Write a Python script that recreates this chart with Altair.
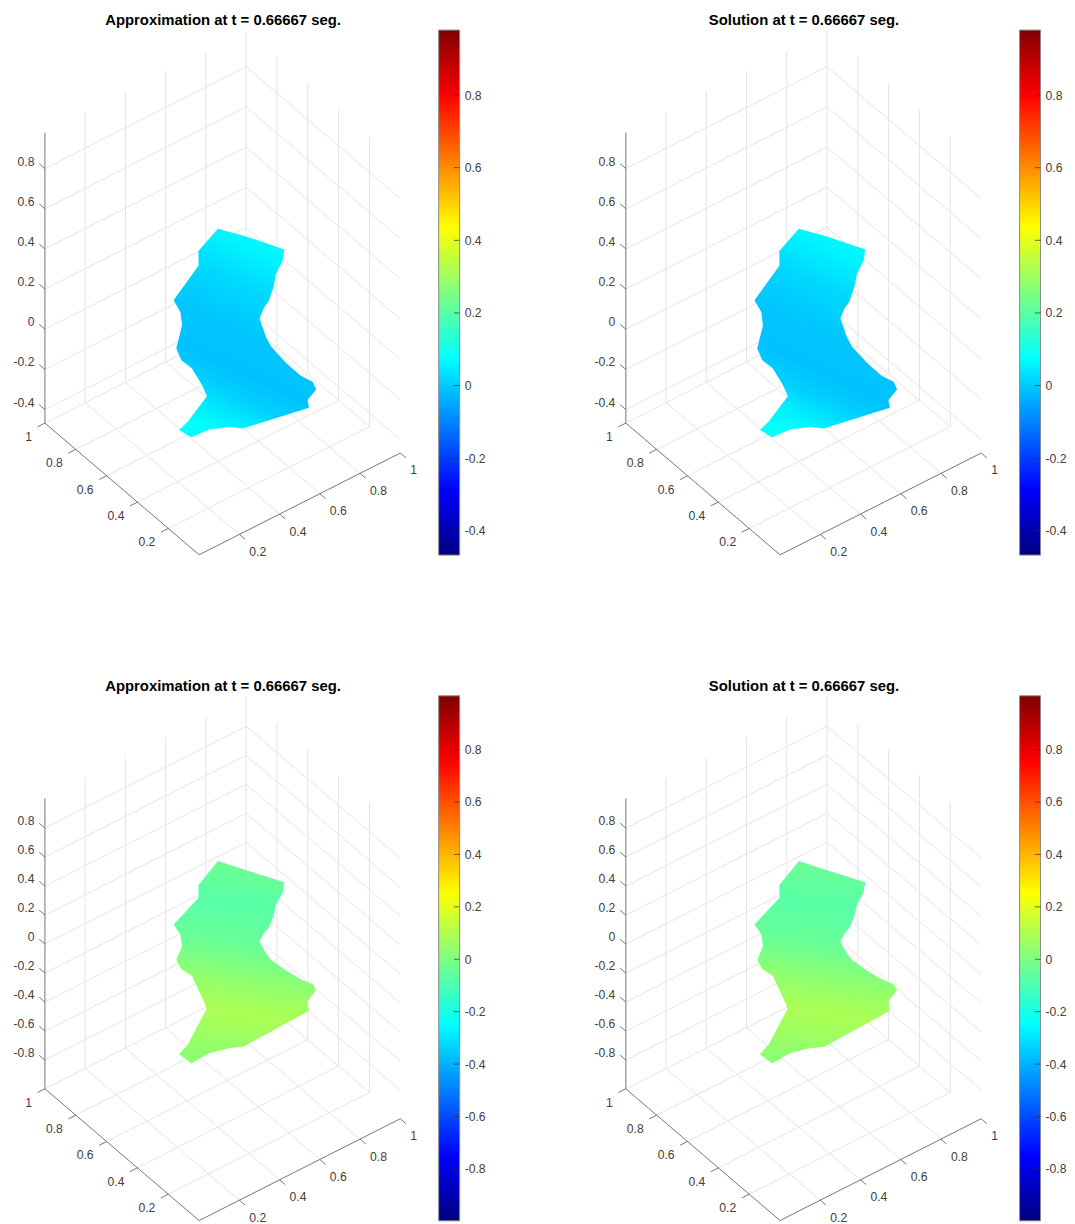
import altair as alt
import pandas as pd

FONT = "Liberation Sans"
TXT = "#404040"
W3D, H = 431, 526
CBW = 21
COL_W = [582, 477]

node_u = [0.856,0.916,0.988,0.950,0.888,0.839,0.780,0.743,0.702,0.657,0.646,0.641,0.644,0.659,0.634,0.561,0.501,
          0.215,0.171,0.091,0.007,-0.001,0.074,0.232,0.268,0.301,0.302,0.329,0.428,0.468,0.471,0.669,0.721]
node_v = [0.995,0.890,0.736,0.697,0.659,0.612,0.566,0.552,0.524,0.422,0.375,0.268,0.179,0.123,0.068,0.029,-0.059,
          -0.003,0.026,0.055,0.060,0.129,0.169,0.252,0.331,0.439,0.509,0.577,0.669,0.732,0.780,0.876,0.945]
node_z_first = [0.070,0.070,0.070,0.060,0.050,0.040,0.030,0.020,0.010,0.005,-0.005,-0.015,-0.020,-0.020,-0.010,0.000,0.050,
                0.055,0.065,0.075,0.075,0.070,0.050,0.040,0.025,0.020,0.015,0.015,0.020,0.025,0.050,0.060,0.060]
node_z_second = [-0.024,-0.034,-0.027,-0.034,-0.041,-0.043,-0.041,-0.043,-0.043,-0.002,0.005,0.030,0.050,0.057,0.085,0.092,0.150,
                 0.051,0.049,0.042,0.026,0.033,0.012,0.074,0.051,0.078,0.060,0.044,-0.013,-0.018,0.005,-0.038,-0.050]

lims_first = (-0.467, 0.979)
lims_second = (-0.998, 1.005)
ticks_first = [-0.4, -0.2, 0, 0.2, 0.4, 0.6, 0.8]
ticks_second = [-0.8, -0.6, -0.4, -0.2, 0, 0.2, 0.4, 0.6, 0.8]
plane_ticks = [0.2, 0.4, 0.6, 0.8, 1]

shade_first = [(0, .075), (.12, .06), (.3, .02), (.5, -.005), (.68, -.012), (.8, .01), (.9, .05), (1, .08)]
shade_second = [(0, -.03), (.22, -.075), (.42, -.04), (.6, .04), (.75, .09), (.88, .06), (1, .03)]
tilt_first = dict(x1=.66, y1=0, x2=.34, y2=1)
tilt_second = dict(x1=.55, y1=0, x2=.45, y2=1)

titles = ["Approximation at t = 0.66667 seg.", "Solution at t = 0.66667 seg."]


def jet(t):
    t = max(0, min(1, t))
    def ch(c):
        return max(0, min(1, 1.5 - abs(4 * t - c)))
    r, g, b = ch(3), ch(2), ch(1)
    return "#%02x%02x%02x" % (round(r * 255), round(g * 255), round(b * 255))


def project(u, v, z, lims):
    lo, hi = lims
    return (191.5 + 201.5 * u - 154.5 * v,
            525.7 - 102 * u - 132 * v - 291 * (z - lo) / (hi - lo))


YS = alt.Scale(domain=[H, 0], nice=False, zero=False)
def fmt(v):
    return "%g" % v


def panel(title, lims, zticks, node_z, shade, tilt, pw):
    XS = alt.Scale(domain=[0, pw], nice=False, zero=False)

    def rules(segs, color, width):
        rows = []
        for (a, b) in segs:
            x, y = project(*a, lims)
            x2, y2 = project(*b, lims)
            rows.append(dict(x=x, y=y, x2=x2, y2=y2))
        return alt.Chart(pd.DataFrame(rows)).mark_rule(color=color, strokeWidth=width).encode(
            x=alt.X("x:Q", scale=XS, axis=None), y=alt.Y("y:Q", scale=YS, axis=None),
            x2="x2:Q", y2="y2:Q")

    def labels(pts, align, dx, dy):
        rows = []
        for (u, v, z, s) in pts:
            x, y = project(u, v, z, lims)
            rows.append(dict(x=x, y=y, s=s))
        return alt.Chart(pd.DataFrame(rows)).mark_text(
            align=align, baseline="middle", dx=dx, dy=dy, font=FONT, fontSize=12.2, color=TXT
        ).encode(x=alt.X("x:Q", scale=XS, axis=None), y=alt.Y("y:Q", scale=YS, axis=None), text="s:N")

    lo, hi = lims
    grid, axes = [], []
    for t in plane_ticks:
        grid.append(((t, 0.2 if t == 1 else 0, lo), (t, 1, lo)))
        grid.append(((0, t, lo), (1, t, lo)))
        if t < 1:
            grid.append(((t, 1, lo), (t, 1, hi)))
            grid.append(((1, t, lo), (1, t, hi)))
    grid.append(((1, 1, lo), (1, 1, hi)))
    for z in zticks:
        grid.append(((0, 1, z), (1, 1, z)))
        grid.append(((1, 1, z), (1, 0, z)))
    axes.append(((0, 0, lo), (1, 0, lo)))
    axes.append(((0, 0, lo), (0, 1, lo)))
    axes.append(((0, 1, lo), (0, 1, hi)))
    for t in plane_ticks:
        axes.append(((t, 0, lo), (t, -0.037, lo)))
        axes.append(((0, t, lo), (-0.037, t, lo)))
    for z in zticks:
        axes.append(((0, 1, z), (0, 1.037, z)))

    sx, sy = [], []
    for u, v, z in zip(node_u, node_v, node_z):
        a, b = project(u, v, z, lims)
        sx.append(a)
        sy.append(b)
    sx.append(sx[0]); sy.append(sy[0])
    surf = pd.DataFrame(dict(x=sx, y=sy, ord=list(range(len(sx)))))
    grad = alt.LinearGradient(
        gradient="linear",
        stops=[alt.GradientStop(offset=o, color=jet((z - lo) / (hi - lo))) for o, z in shade],
        **tilt)
    surface = alt.Chart(surf).mark_line(fill=grad, strokeWidth=0, interpolate="linear").encode(
        x=alt.X("x:Q", scale=XS, axis=None),
        y=alt.Y("y:Q", scale=YS, axis=None),
        order=alt.Order("ord:Q"))

    ys = alt.Scale(domain=[lo, hi], nice=False, zero=False)
    stops = [0, 1 / 8, 3 / 8, 5 / 8, 7 / 8, 1]
    cgrad = alt.LinearGradient(
        gradient="linear", x1=0, x2=0, y1=1, y2=0,
        stops=[alt.GradientStop(offset=o, color=jet(o)) for o in stops])
    bar = alt.Chart(pd.DataFrame(dict(a=[lo], b=[hi]))).mark_rect(
        color=cgrad, stroke="#8a8a8a", strokeWidth=1).encode(
        x=alt.value(W3D + 0.5), x2=alt.value(W3D + CBW + 0.5),
        y=alt.Y("a:Q", scale=ys, axis=alt.Axis(
            orient="right", values=zticks, ticks=False, domain=False, grid=False, title=None,
            offset=-(pw - W3D - CBW), labelPadding=5, labelFont=FONT, labelFontSize=12.2,
            labelColor=TXT, labelExpr="'' + datum.value", labelFlush=False, labelOverlap=False)),
        y2="b:Q")
    marks = alt.Chart(pd.DataFrame(dict(t=zticks))).mark_rule(color="#333333", strokeWidth=0.7).encode(
        x=alt.value(W3D + CBW - 5.2), x2=alt.value(W3D + CBW + 0.5), y=alt.Y("t:Q", scale=ys, axis=None))

    return alt.layer(
        rules(grid, "#e4e4e4", 1),
        rules(axes, "#666666", 0.9),
        surface,
        labels([(t, 0, lo, fmt(t)) for t in plane_ticks], "left", 10, 17.5),
        labels([(0, t, lo, fmt(t)) for t in plane_ticks], "right", -13, 14),
        labels([(0, 1, z, fmt(z)) for z in zticks], "right", -10.5, -7),
        bar, marks,
    ).resolve_scale(y="independent").properties(
        width=pw, height=H,
        view=alt.ViewBackground(stroke=None),
        title=alt.TitleParams(title, font=FONT, fontSize=14.9, fontWeight="bold", color="black",
                              anchor="middle", dx=W3D / 2 - pw / 2, offset=1.5),
    )


cells = []
for t, pw in zip(titles, COL_W):
    cells.append(panel(t, lims_first, ticks_first, node_z_first, shade_first, tilt_first, pw))
for t, pw in zip(titles, COL_W):
    cells.append(panel(t, lims_second, ticks_second, node_z_second, shade_second, tilt_second, pw))

chart = alt.concat(*cells, columns=2, spacing={"column": 0, "row": 141}, bounds="flush").properties(
    padding={"left": 0, "top": 4, "right": 0, "bottom": 0})

chart.save("out.html", embed_options={"renderer": "svg", "actions": False})
